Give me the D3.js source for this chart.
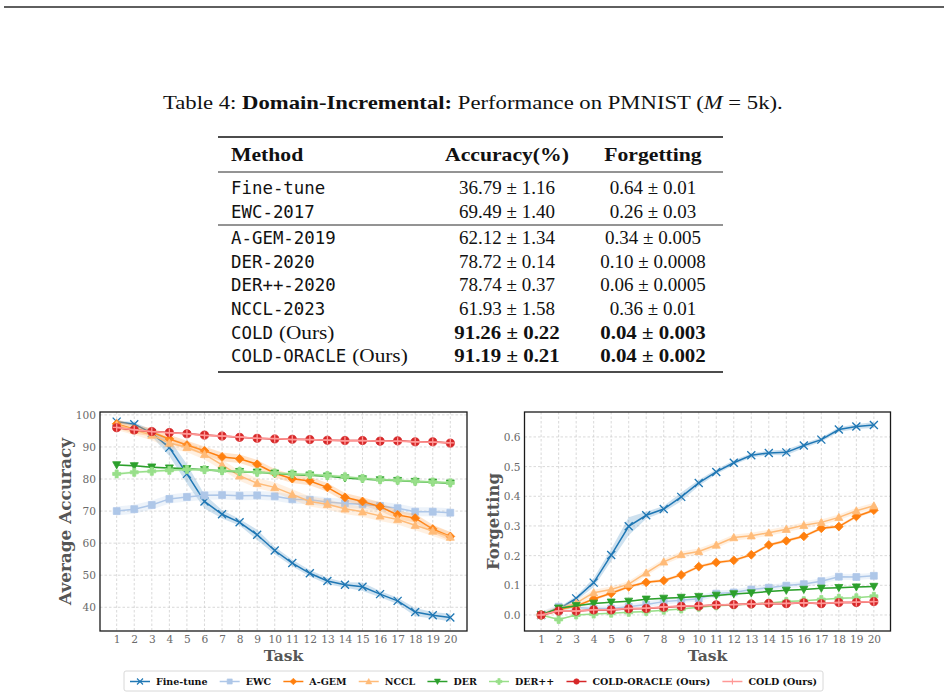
<!DOCTYPE html>
<html>
<head>
<meta charset="utf-8">
<script src="https://cdn.jsdelivr.net/npm/d3@7"></script>
<style>
body { margin: 0; background: #fff; }
</style>
</head>
<body>
<svg id="page" width="948" height="698"></svg>
<script>
// ---------- data ----------
var tasks = [1,2,3,4,5,6,7,8,9,10,11,12,13,14,15,16,17,18,19,20];
var methods = ["Fine-tune","EWC","A-GEM","NCCL","DER","DER++","COLD-ORACLE (Ours)","COLD (Ours)"];
var colors  = ["#1f77b4","#aec7e8","#ff7f0e","#ffbb78","#2ca02c","#98df8a","#d62728","#ff9896"];
var markers = ["x","square","diamond","triangle","triangleDown","plusFilled","circle","plus"];

// average accuracy per task
var accFinetune = [97.9,97.1,94.3,89.8,81.6,73.0,69.0,66.5,62.6,57.7,53.8,50.6,48.2,47.0,46.4,44.1,42.0,38.5,37.5,36.8];
var accEWC      = [70.0,70.6,71.9,73.8,74.4,74.9,75.0,74.8,74.9,74.6,73.7,73.5,72.8,72.4,72.1,71.6,70.9,69.8,69.8,69.5];
var accAGEM     = [97.2,95.5,94.6,92.5,90.6,88.8,86.9,86.3,84.6,81.8,80.1,79.4,77.4,74.3,73.0,71.4,68.8,67.8,64.4,62.1];
var accNCCL     = [96.9,95.3,93.7,91.2,89.9,87.7,84.4,81.0,78.7,77.4,75.2,73.0,72.1,70.7,69.8,68.5,67.4,65.6,63.8,61.9];
var accDER      = [84.4,84.1,83.7,83.4,83.2,82.9,82.5,82.3,82.1,81.8,81.4,81.2,80.9,80.3,80.0,79.7,79.5,79.2,79.0,78.7];
var accDERpp    = [81.6,82.1,82.4,82.7,83.0,82.9,82.6,82.4,82.1,81.9,81.6,81.4,81.1,80.7,80.2,79.8,79.6,79.3,79.1,78.8];
var accOracle   = [96.0,95.3,94.8,94.5,94.1,93.7,93.4,93.0,92.7,92.5,92.4,92.3,92.1,92.0,92.0,91.8,91.9,91.6,91.6,91.2];
var accCOLD     = [96.1,95.4,94.8,94.4,94.1,93.6,93.4,93.1,92.7,92.6,92.3,92.3,92.1,91.9,92.0,91.8,91.8,91.6,91.5,91.3];
var accStd      = [1.2,1.4,1.34,1.58,0.3,0.4,0.25,0.25];
var accStdFinetune = [0.4,0.6,1.0,2.6,3.0,2.2,1.3,1.0,1.6,1.2,1.0,1.0,1.0,0.8,1.3,1.0,1.0,1.3,1.0,1.2];

// forgetting per task
var fgtFinetune = [0.0,0.020,0.056,0.109,0.202,0.299,0.336,0.357,0.398,0.445,0.482,0.513,0.538,0.546,0.548,0.571,0.591,0.625,0.635,0.640];
var fgtEWC      = [0.0,0.028,0.025,0.022,0.022,0.028,0.035,0.045,0.050,0.055,0.072,0.076,0.086,0.092,0.099,0.104,0.114,0.129,0.128,0.132];
var fgtAGEM     = [0.0,0.018,0.030,0.054,0.073,0.095,0.110,0.116,0.135,0.163,0.177,0.184,0.203,0.236,0.250,0.265,0.292,0.298,0.332,0.353];
var fgtNCCL     = [0.0,0.020,0.040,0.075,0.086,0.104,0.142,0.179,0.204,0.214,0.236,0.261,0.267,0.277,0.289,0.302,0.312,0.329,0.351,0.368];
var fgtDER      = [0.0,0.023,0.031,0.039,0.043,0.046,0.053,0.056,0.059,0.062,0.066,0.071,0.074,0.079,0.083,0.086,0.090,0.092,0.094,0.096];
var fgtDERpp    = [0.0,-0.015,0.0,0.003,0.006,0.009,0.012,0.016,0.020,0.026,0.031,0.034,0.037,0.040,0.045,0.048,0.052,0.056,0.058,0.063];
var fgtOracle   = [0.0,0.013,0.013,0.017,0.017,0.021,0.022,0.026,0.029,0.030,0.034,0.035,0.037,0.039,0.038,0.041,0.038,0.042,0.042,0.045];
var fgtCOLD     = [0.0,0.014,0.013,0.018,0.018,0.022,0.023,0.027,0.030,0.031,0.034,0.035,0.037,0.039,0.039,0.041,0.039,0.042,0.043,0.045];
var fgtStd      = [0.01,0.01,0.005,0.01,0.002,0.002,0.003,0.003];
var fgtStdFinetune = [0.0,0.005,0.008,0.015,0.02,0.03,0.012,0.01,0.015,0.01,0.008,0.008,0.007,0.007,0.01,0.008,0.007,0.008,0.008,0.01];

var accTicks = [40,50,60,70,80,90,100];
var fgtTicks = [0.0,0.1,0.2,0.3,0.4,0.5,0.6];

// table
var tableMethods  = ["Fine-tune","EWC-2017","A-GEM-2019","DER-2020","DER++-2020","NCCL-2023","COLD","COLD-ORACLE"];
var tableOurs     = [false,false,false,false,false,false,true,true];
var tableAccMean  = ["36.79","69.49","62.12","78.72","78.74","61.93","91.26","91.19"];
var tableAccStd   = ["1.16","1.40","1.34","0.14","0.37","1.58","0.22","0.21"];
var tableFgtMean  = ["0.64","0.26","0.34","0.10","0.06","0.36","0.04","0.04"];
var tableFgtStd   = ["0.01","0.03","0.005","0.0008","0.0005","0.01","0.003","0.002"];

var svg = d3.select("#page");
var SERIF = "'Liberation Serif', 'DejaVu Serif', serif";
var MONO = "'DejaVu Sans Mono', 'Liberation Mono', monospace";
var PLOTF = "'DejaVu Serif', serif";

// stretch a text element horizontally by a factor
function stretch(sel, f) {
  sel.each(function() {
    var w = this.getComputedTextLength();
    d3.select(this).attr("textLength", w * f).attr("lengthAdjust", "spacingAndGlyphs");
  });
  return sel;
}

// ---------- page rule ----------
svg.append("line").attr("x1", 4).attr("x2", 944).attr("y1", 7).attr("y2", 7)
  .attr("stroke", "#2a2a2a").attr("stroke-width", 1.6);

// ---------- table ----------
var cap = svg.append("text").attr("font-family", SERIF).attr("font-size", 19).attr("fill", "#111");
cap.append("tspan").text("Table 4: ");
cap.append("tspan").attr("font-weight", "bold").text("Domain-Incremental:");
cap.append("tspan").text(" Performance on PMNIST (");
cap.append("tspan").attr("font-style", "italic").text("M");
cap.append("tspan").text(" = 5k).");
var capW = cap.node().getBBox().width;
cap.attr("transform", "translate(163,109) scale(" + (620 / capW) + ",1)");

var tbl = svg.append("g");
var ruleX0 = 218, ruleX1 = 723;
[[137, 1.6], [172, 0.9], [225, 0.9], [372, 1.6]].forEach(function(r) {
  tbl.append("line").attr("x1", ruleX0).attr("x2", ruleX1).attr("y1", r[0]).attr("y2", r[0])
    .attr("stroke", "#111").attr("stroke-width", r[1]);
});

var colMethod = 231, colAcc = 507, colFgt = 653;
var head = [["Method", colMethod, "start"], ["Accuracy(%)", colAcc, "middle"], ["Forgetting", colFgt, "middle"]];
head.forEach(function(h) {
  stretch(tbl.append("text").attr("x", h[1]).attr("y", 160.5).attr("text-anchor", h[2])
    .attr("font-family", SERIF).attr("font-size", 19).attr("font-weight", "bold").attr("fill", "#111")
    .text(h[0]), 1.14);
});

var rowY = d3.scaleLinear().domain([0, 7]).range([194, 194 + 7 * 23.7]);
tableMethods.forEach(function(m, i) {
  var y = rowY(i) + (i >= 2 ? 2.5 : 0);
  var t = tbl.append("text").attr("x", colMethod).attr("y", y)
    .attr("font-family", MONO).attr("font-size", 17.4).attr("fill", "#111").text(m);
  if (tableOurs[i]) {
    var w = t.node().getComputedTextLength();
    stretch(tbl.append("text").attr("x", colMethod + w + 6).attr("y", y)
      .attr("font-family", SERIF).attr("font-size", 19).attr("fill", "#111").text("(Ours)"), 1.12);
  }
  var bold = tableOurs[i];
  [[tableAccMean[i] + " ± " + tableAccStd[i], colAcc], [tableFgtMean[i] + " ± " + tableFgtStd[i], colFgt]].forEach(function(c) {
    var tt = tbl.append("text").attr("x", c[1]).attr("y", y).attr("text-anchor", "middle")
      .attr("font-family", SERIF).attr("font-size", 19).attr("fill", "#111")
      .attr("font-weight", bold ? "bold" : "normal").text(c[0]);
    if (bold) stretch(tt, 1.1);
  });
});

// ---------- markers ----------
function markerPath(type, s) {
  switch (type) {
    case "x": return "M" + (-s) + "," + (-s) + "L" + s + "," + s + "M" + (-s) + "," + s + "L" + s + "," + (-s);
    case "plus": return "M" + (-s) + ",0L" + s + ",0M0," + (-s) + "L0," + s;
    case "square": return "M" + (-s * 0.85) + "," + (-s * 0.85) + "h" + (1.7 * s) + "v" + (1.7 * s) + "h" + (-1.7 * s) + "Z";
    case "diamond": return "M0," + (-s * 1.1) + "L" + (s * 1.1) + ",0L0," + (s * 1.1) + "L" + (-s * 1.1) + ",0Z";
    case "triangle": return "M0," + (-s) + "L" + s + "," + (s * 0.8) + "L" + (-s) + "," + (s * 0.8) + "Z";
    case "triangleDown": return "M0," + s + "L" + s + "," + (-s * 0.8) + "L" + (-s) + "," + (-s * 0.8) + "Z";
    case "plusFilled":
      var a = s, b = s * 0.38;
      return "M" + (-b) + "," + (-a) + "H" + b + "V" + (-b) + "H" + a + "V" + b + "H" + b + "V" + a +
        "H" + (-b) + "V" + b + "H" + (-a) + "V" + (-b) + "H" + (-b) + "Z";
    default: return d3.symbol(d3.symbolCircle, Math.PI * s * s * 0.85)();
  }
}
function isStroke(type) { return type === "x" || type === "plus"; }

// ---------- panels ----------
function drawPanel(p) {
  var x = d3.scaleLinear().domain([0.05, 20.95]).range([p.x0, p.x1]);
  var y = d3.scaleLinear().domain(p.yDomain).range([p.y1, p.y0]);
  var g = svg.append("g");

  // grid
  g.selectAll(".vgrid").data(tasks).join("line")
    .attr("x1", function(d) { return x(d); }).attr("x2", function(d) { return x(d); })
    .attr("y1", p.y0).attr("y2", p.y1)
    .attr("stroke", "#cfcfcf").attr("stroke-width", 0.8).attr("stroke-dasharray", "2.5,2");
  g.selectAll(".hgrid").data(p.yTicks).join("line")
    .attr("x1", p.x0).attr("x2", p.x1)
    .attr("y1", function(d) { return y(d); }).attr("y2", function(d) { return y(d); })
    .attr("stroke", "#cfcfcf").attr("stroke-width", 0.8).attr("stroke-dasharray", "2.5,2");

  var line = d3.line().x(function(d, j) { return x(tasks[j]); }).y(function(d) { return y(d); });

  p.series.forEach(function(s, i) {
    var sd = function(j) { return i === 0 ? p.stdFirst[j] : p.std[i]; };
    var area = d3.area()
      .x(function(d, j) { return x(tasks[j]); })
      .y0(function(d, j) { return y(d - sd(j)); })
      .y1(function(d, j) { return y(d + sd(j)); });
    g.append("path").datum(s).attr("d", area).attr("fill", colors[i]).attr("fill-opacity", 0.22);
    g.append("path").datum(s).attr("d", line).attr("fill", "none")
      .attr("stroke", colors[i]).attr("stroke-width", 1.5);
    var mk = markerPath(markers[i], markers[i] === "circle" ? 4.4 : 4);
    g.selectAll(null).data(s).join("path")
      .attr("transform", function(d, j) { return "translate(" + x(tasks[j]) + "," + y(d) + ")"; })
      .attr("d", mk)
      .attr("fill", isStroke(markers[i]) ? "none" : colors[i])
      .attr("stroke", colors[i]).attr("stroke-width", isStroke(markers[i]) ? 1.3 : 0.8);
  });

  // frame
  g.append("rect").attr("x", p.x0).attr("y", p.y0).attr("width", p.x1 - p.x0).attr("height", p.y1 - p.y0)
    .attr("fill", "none").attr("stroke", "#1a1a1a").attr("stroke-width", 1.3);

  // axes
  var ax = g.append("g").attr("transform", "translate(0," + p.y1 + ")")
    .call(d3.axisBottom(x).tickValues(tasks).tickSize(0).tickPadding(4));
  var ay = g.append("g").attr("transform", "translate(" + p.x0 + ",0)")
    .call(d3.axisLeft(y).tickValues(p.yTicks).tickFormat(p.yFormat).tickSize(0).tickPadding(4));
  [ax, ay].forEach(function(a) {
    a.select(".domain").remove();
    a.selectAll("text").attr("font-family", PLOTF).attr("font-size", 10.6).attr("fill", "#6a6a6a");
  });

  g.append("text").attr("x", (p.x0 + p.x1) / 2).attr("y", 661).attr("text-anchor", "middle")
    .attr("font-family", PLOTF).attr("font-weight", "bold").attr("font-size", 15.5).attr("fill", "#555")
    .text("Task");
  g.append("text").attr("transform", "translate(" + p.labelX + "," + ((p.y0 + p.y1) / 2) + ") rotate(-90)")
    .attr("text-anchor", "middle").attr("dy", "0.36em")
    .attr("font-family", PLOTF).attr("font-weight", "bold").attr("font-size", 16).attr("fill", "#555")
    .attr("textLength", p.labelLen).attr("lengthAdjust", "spacingAndGlyphs")
    .text(p.yLabel);
}

drawPanel({
  x0: 100, x1: 467, y0: 412, y1: 631,
  yDomain: [32.6, 100.9], yTicks: accTicks, yFormat: d3.format("d"),
  series: [accFinetune, accEWC, accAGEM, accNCCL, accDER, accDERpp, accOracle, accCOLD],
  std: accStd, stdFirst: accStdFinetune,
  yLabel: "Average Accuracy", labelX: 65, labelLen: 167
});
drawPanel({
  x0: 524.5, x1: 890.5, y0: 412, y1: 631,
  yDomain: [-0.054, 0.684], yTicks: fgtTicks, yFormat: d3.format(".1f"),
  series: [fgtFinetune, fgtEWC, fgtAGEM, fgtNCCL, fgtDER, fgtDERpp, fgtOracle, fgtCOLD],
  std: fgtStd, stdFirst: fgtStdFinetune,
  yLabel: "Forgetting", labelX: 493, labelLen: 97
});

// ---------- legend ----------
var lgX0 = 124, lgX1 = 823, lgY0 = 671, lgY1 = 691, lgCy = 681.5;
var lg = svg.append("g");
lg.append("rect").attr("x", lgX0).attr("y", lgY0).attr("width", lgX1 - lgX0).attr("height", lgY1 - lgY0)
  .attr("rx", 2).attr("fill", "#fff").attr("stroke", "#d4d4d4").attr("stroke-width", 0.9);
var handleLen = 20, handleGap = 6, pad = 6;
var labels = methods.map(function(m) {
  return lg.append("text").attr("y", lgCy).attr("dy", "0.35em")
    .attr("font-family", PLOTF).attr("font-weight", "bold").attr("font-size", 9.5).attr("fill", "#111").text(m);
});
var widths = labels.map(function(t) { return t.node().getComputedTextLength(); });
var spacing = ((lgX1 - lgX0) - 2 * pad - methods.length * (handleLen + handleGap) - d3.sum(widths)) / (methods.length - 1);
var cx = lgX0 + pad;
methods.forEach(function(m, i) {
  lg.append("line").attr("x1", cx).attr("x2", cx + handleLen).attr("y1", lgCy).attr("y2", lgCy)
    .attr("stroke", colors[i]).attr("stroke-width", 1.5);
  lg.append("path").attr("transform", "translate(" + (cx + handleLen / 2) + "," + lgCy + ")")
    .attr("d", markerPath(markers[i], 3))
    .attr("fill", isStroke(markers[i]) ? "none" : colors[i])
    .attr("stroke", colors[i]).attr("stroke-width", isStroke(markers[i]) ? 1.1 : 0.6);
  labels[i].attr("x", cx + handleLen + handleGap);
  cx += handleLen + handleGap + widths[i] + spacing;
});
</script>
</body>
</html>
